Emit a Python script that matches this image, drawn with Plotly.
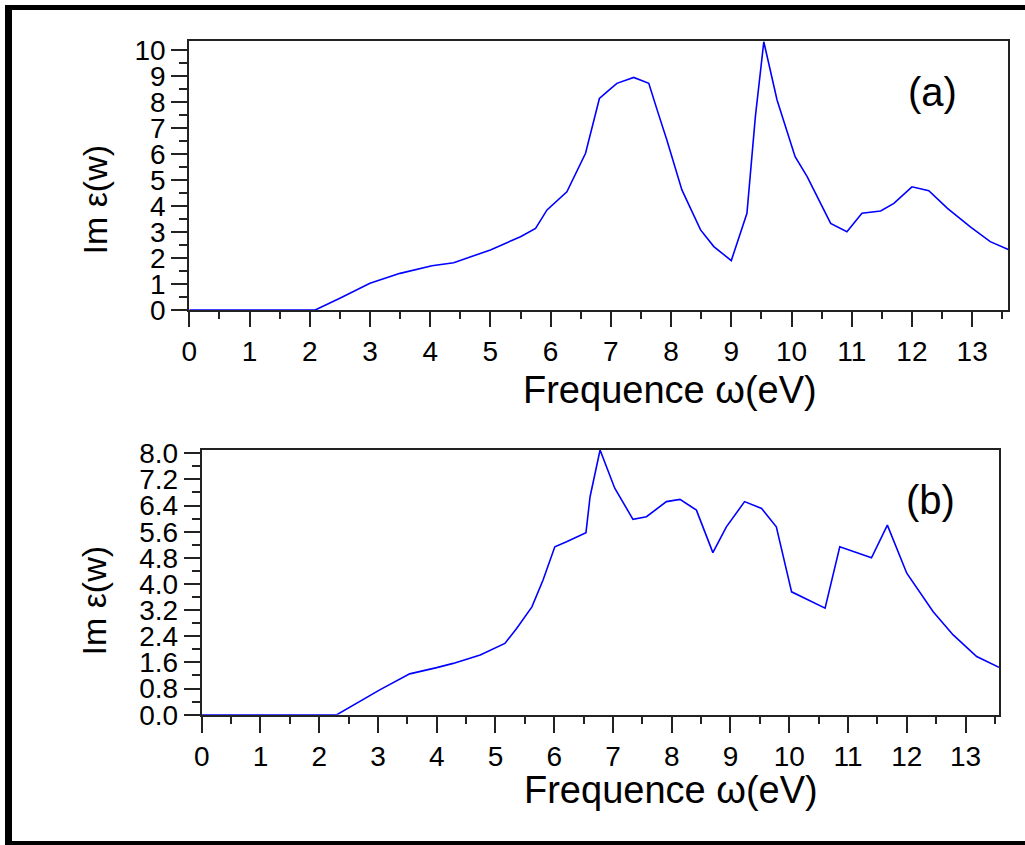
import plotly.graph_objects as go

# Panel (a) data
freq_a = [0, 2.09, 2.5, 3.0, 3.5, 4.03, 4.39, 5.0, 5.5, 5.75, 5.94, 6.27, 6.58, 6.69, 6.81, 6.94,
          7.1, 7.38, 7.63, 7.77, 7.93, 8.18, 8.49, 8.71, 9.0, 9.26, 9.4, 9.54, 9.76, 10.06, 10.26,
          10.65, 10.92, 11.17, 11.48, 11.7, 12.0, 12.28, 12.59, 12.97, 13.3, 13.6]
eps_a = [0, 0, 0.45, 1.03, 1.41, 1.7, 1.82, 2.31, 2.82, 3.14, 3.85, 4.55, 6.03, 7.05, 8.14, 8.4,
         8.72, 8.95, 8.72, 7.69, 6.54, 4.62, 3.08, 2.44, 1.9, 3.72, 7.44, 10.32, 8.08, 5.9, 5.13,
         3.33, 3.01, 3.72, 3.81, 4.1, 4.74, 4.59, 3.91, 3.2, 2.63, 2.33]

# Panel (b) data
freq_b = [0, 2.3, 3.03, 3.54, 4.0, 4.28, 4.74, 5.16, 5.36, 5.62, 5.81, 6.01, 6.21, 6.54, 6.61, 6.78,
          7.03, 7.34, 7.57, 7.91, 8.14, 8.42, 8.7, 8.93, 9.24, 9.53, 9.78, 10.04, 10.61, 10.86,
          11.4, 11.67, 12.0, 12.45, 12.79, 13.19, 13.57]
eps_b = [0, 0, 0.76, 1.25, 1.44, 1.57, 1.83, 2.18, 2.64, 3.3, 4.12, 5.14, 5.29, 5.57, 6.67, 8.1,
         6.93, 5.98, 6.06, 6.52, 6.59, 6.26, 4.96, 5.75, 6.52, 6.31, 5.75, 3.76, 3.26, 5.14,
         4.8, 5.8, 4.33, 3.15, 2.44, 1.78, 1.45]

x_ticks = list(range(0, 14))
ya_ticks = list(range(0, 11))
yb_ticks = [0.0, 0.8, 1.6, 2.4, 3.2, 4.0, 4.8, 5.6, 6.4, 7.2, 8.0]
yb_labels = ["0.0", "0.8", "1.6", "2.4", "3.2", "4.0", "4.8", "5.6", "6.4", "7.2", "8.0"]

x_title = "Frequence ω(eV)"
y_title = "Im ε(w)"
panel_labels = ["(a)", "(b)"]

W, H = 1025, 845
FONT = "Liberation Sans, Arial, sans-serif"


def px(x):
    return x / W


def py(y):
    return 1 - y / H


fig = go.Figure()
fig.add_trace(go.Scatter(x=freq_a, y=eps_a, mode="lines", line=dict(color="#0000ff", width=1.6),
                         xaxis="x", yaxis="y", showlegend=False))
fig.add_trace(go.Scatter(x=freq_b, y=eps_b, mode="lines", line=dict(color="#0000ff", width=1.6),
                         xaxis="x2", yaxis="y2", showlegend=False))

tickfont = dict(family=FONT, size=28, color="black")
common_x = dict(showline=True, linecolor="#222", linewidth=2, mirror=True, ticks="outside",
                tickwidth=2, tickcolor="#222", showgrid=False, zeroline=False, tickfont=tickfont,
                tickvals=x_ticks, automargin=False, layer="below traces",
                minor=dict(dtick=0.5, tick0=0, ticks="outside", ticklen=7, tickwidth=2,
                           tickcolor="#222", showgrid=False))
common_y = dict(showline=True, linecolor="#222", linewidth=2, mirror=True, ticks="outside",
                tickwidth=2, tickcolor="#222", showgrid=False, zeroline=False, tickfont=tickfont,
                automargin=False, layer="below traces", ticklen=16)

fig.update_layout(
    width=W, height=H, template="none",
    margin=dict(l=0, r=0, t=0, b=0),
    paper_bgcolor="white", plot_bgcolor="white",
    xaxis=dict(domain=[px(189.3), px(1008.3)], range=[0, 13.6], anchor="y", ticklen=15, **common_x),
    yaxis=dict(domain=[py(310), py(41)], range=[0, 10.35], anchor="x", tickvals=ya_ticks,
               minor=dict(dtick=0.5, tick0=0, ticks="outside", ticklen=8, tickwidth=2,
                          tickcolor="#222", showgrid=False), **common_y),
    xaxis2=dict(domain=[px(201.7), px(999)], range=[0, 13.57], anchor="y2", ticklen=16, **common_x),
    yaxis2=dict(domain=[py(714.7), py(450)], range=[0, 8.1], anchor="x2", tickvals=yb_ticks,
                ticktext=yb_labels,
                minor=dict(dtick=0.4, tick0=0, ticks="outside", ticklen=8, tickwidth=2,
                           tickcolor="#222", showgrid=False), **common_y),
)

annots = [
    dict(text=x_title, x=px(670), y=py(390), font=dict(family=FONT, size=38, color="black")),
    dict(text=x_title, x=px(671), y=py(790), font=dict(family=FONT, size=38, color="black")),
    dict(text=y_title, x=px(94.5), y=py(200), textangle=-90, font=dict(family=FONT, size=34, color="black")),
    dict(text=y_title, x=px(93.5), y=py(601), textangle=-90, font=dict(family=FONT, size=34, color="black")),
    dict(text=panel_labels[0], x=px(932), y=py(92), font=dict(family=FONT, size=40, color="black")),
    dict(text=panel_labels[1], x=px(930), y=py(500), font=dict(family=FONT, size=40, color="black")),
]
for a in annots:
    fig.add_annotation(xref="paper", yref="paper", showarrow=False, xanchor="center", yanchor="middle", **a)

# outer black frame (left, top, bottom bands)
for x0, y0, x1, y1 in [(5, 5, 12, 845), (5, 5, 1030, 10), (5, 841, 1030, 846)]:
    fig.add_shape(type="rect", xref="paper", yref="paper", x0=px(x0), x1=px(x1), y0=py(y1), y1=py(y0),
                  fillcolor="black", line=dict(width=0), layer="above")

fig.write_html("out.html", config={"displayModeBar": False},
               post_script="document.body.style.margin='0';document.body.style.overflow='hidden';")
